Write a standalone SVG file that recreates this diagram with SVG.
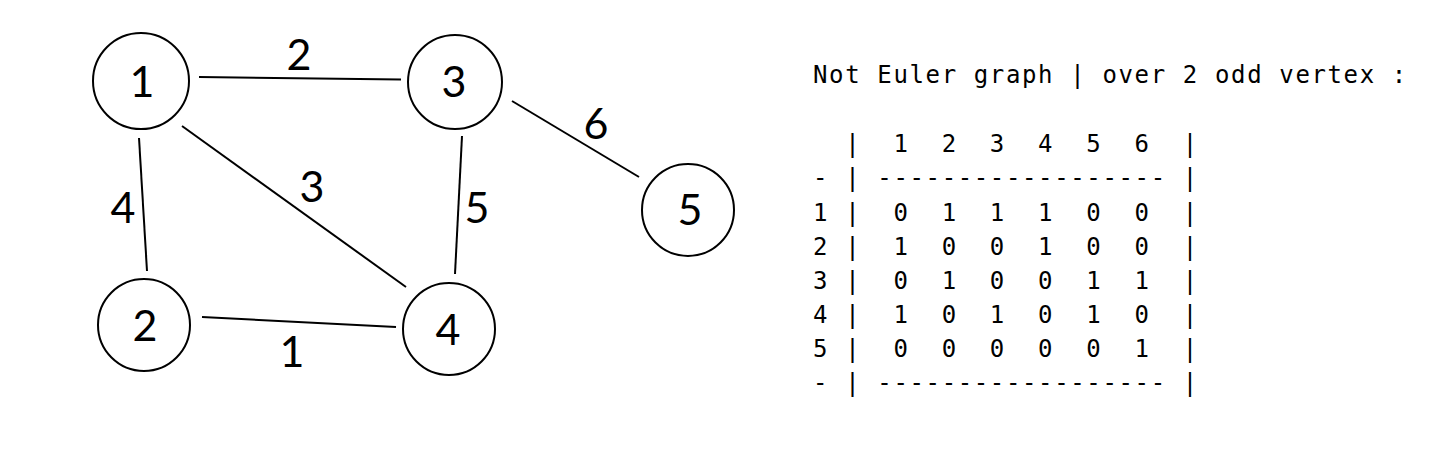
<svg xmlns="http://www.w3.org/2000/svg" width="1455" height="450" viewBox="0 0 1455 450">
<style>
.node circle{fill:#fff;stroke:#000;stroke-width:2}
.lbl{font-family:Lato,"Open Sans","Liberation Sans",sans-serif;font-size:43px;fill:#000;text-anchor:middle}
#edges line{stroke:#000;stroke-width:2}
.mono{font-family:"DejaVu Sans Mono","Liberation Mono",monospace;font-size:24px;letter-spacing:1.63px;fill:#000;white-space:pre}
</style>
<rect width="1455" height="450" fill="#fff"/>
<g id="edges">
<line x1="199" y1="77" x2="401" y2="79.5"/>
<line x1="182" y1="126" x2="406" y2="287"/>
<line x1="139" y1="138" x2="147" y2="271"/>
<line x1="462" y1="136" x2="455" y2="274"/>
<line x1="512" y1="101" x2="639" y2="177"/>
<line x1="202" y1="317" x2="396" y2="327"/>
<text class="lbl" x="299" y="70">2</text>
<text class="lbl" x="312" y="202">3</text>
<text class="lbl" x="123" y="223">4</text>
<text class="lbl" x="477" y="223">5</text>
<text class="lbl" x="596" y="139">6</text>
<text class="lbl" x="292" y="367">1</text>
</g>
<g id="node1" class="node"><circle cx="141" cy="81" r="48"/><text class="lbl" x="142" y="97">1</text></g>
<g id="node3" class="node"><circle cx="455" cy="82" r="47"/><text class="lbl" x="454" y="97">3</text></g>
<g id="node2" class="node"><circle cx="144" cy="325" r="46"/><text class="lbl" x="145" y="341">2</text></g>
<g id="node4" class="node"><circle cx="449" cy="329" r="46"/><text class="lbl" x="448" y="345">4</text></g>
<g id="node5" class="node"><circle cx="688" cy="210" r="46"/><text class="lbl" x="690" y="225">5</text></g>
<g id="matrix">
<text class="mono" xml:space="preserve" x="813" y="83">Not Euler graph | over 2 odd vertex :</text>
<text class="mono" xml:space="preserve" x="813" y="152">  |  1  2  3  4  5  6  |</text>
<text class="mono" xml:space="preserve" x="813" y="186">- | ------------------ |</text>
<text class="mono" xml:space="preserve" x="813" y="220.5">1 |  0  1  1  1  0  0  |</text>
<text class="mono" xml:space="preserve" x="813" y="254.7">2 |  1  0  0  1  0  0  |</text>
<text class="mono" xml:space="preserve" x="813" y="289">3 |  0  1  0  0  1  1  |</text>
<text class="mono" xml:space="preserve" x="813" y="323">4 |  1  0  1  0  1  0  |</text>
<text class="mono" xml:space="preserve" x="813" y="357">5 |  0  0  0  0  0  1  |</text>
<text class="mono" xml:space="preserve" x="813" y="391">- | ------------------ |</text>
</g>
</svg>
